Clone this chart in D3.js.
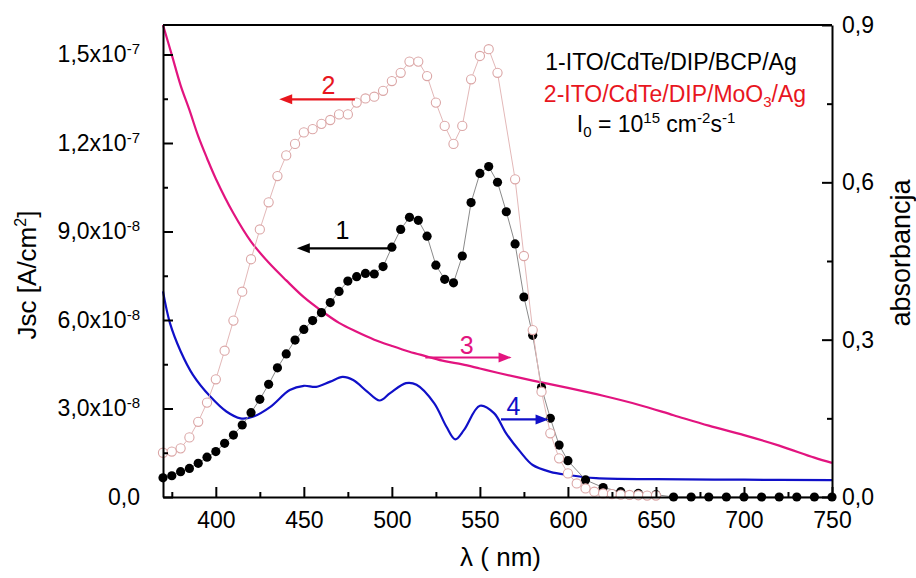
<!DOCTYPE html>
<html><head><meta charset="utf-8">
<script src="https://cdn.jsdelivr.net/npm/d3@7"></script>
<style>
html,body{margin:0;padding:0;background:#fff;}
svg{display:block;font-family:"Liberation Sans",Arial,sans-serif;}
</style></head>
<body>
<svg id="chart" width="916" height="578"></svg>
<script>
// ---------- data ----------
const blackNm = [370,375,380,385,390,395,400,405,410,415,420,425,430,435,440,445,450,455,460,465,470,475,480,485,490,495,500,505,510,515,520,525,530,535,540,545,550,555,560,565,570,575,580,585,590,595,600,610,620,630,640,650,660,670,680,690,700,710,720,730,740,750];
const blackJsc = [0.65,0.72,0.86,0.97,1.14,1.35,1.54,1.82,2.10,2.44,2.86,3.31,3.82,4.38,4.85,5.32,5.68,5.98,6.25,6.59,6.97,7.32,7.47,7.58,7.56,7.81,8.47,9.07,9.48,9.38,8.84,7.86,7.38,7.26,8.17,9.98,10.97,11.20,10.67,9.67,8.58,6.78,5.48,3.71,2.67,1.76,1.23,0.58,0.32,0.18,0.12,0.08,0,0,0,0,0,0,0,0,0,0]; // x1e-8 A/cm2

const pinkNm = [370,375,380,385,390,395,400,405,410,415,420,425,430,435,440,445,450,455,460,465,470,475,480,485,490,495,500,505,510,515,520,525,530,535,540,545,550,555,560,570,575,580,585,590,595,600,605,610,615,620,625,630,635,640,645,650];
const pinkJsc = [1.50,1.54,1.65,2.02,2.55,3.20,3.99,4.96,5.98,6.96,8.06,9.07,9.99,10.88,11.58,11.97,12.36,12.47,12.65,12.78,12.97,12.97,13.37,13.51,13.57,13.77,14.10,14.38,14.76,14.76,14.27,13.37,12.58,11.97,12.58,14.16,14.95,15.18,14.38,10.77,8.17,5.66,3.57,2.16,1.31,0.80,0.46,0.29,0.18,0.12,0.10,0.08,0.07,0.06,0.05,0.05]; // x1e-8 A/cm2

const magentaNm = [370,375,380,385,390,395,400,410,420,430,440,450,460,470,480,490,500,510,520,530,540,550,560,580,600,620,640,660,680,700,720,740,750];
const magentaAbs = [0.900,0.843,0.785,0.738,0.688,0.646,0.607,0.541,0.487,0.447,0.413,0.381,0.355,0.332,0.315,0.300,0.288,0.277,0.268,0.259,0.253,0.245,0.237,0.222,0.208,0.193,0.176,0.156,0.136,0.118,0.098,0.075,0.065];

const blueNm = [370,374,380,387,397,406,414,421,431,442,450,457,465,472,478,486,493,499,508,514,524,531,536,541,550,558,565,573,580,590,600,616,650,700,750];
const blueAbs = [0.392,0.331,0.278,0.233,0.191,0.163,0.150,0.153,0.172,0.204,0.212,0.210,0.220,0.229,0.223,0.201,0.184,0.198,0.217,0.214,0.179,0.134,0.110,0.128,0.174,0.160,0.121,0.086,0.061,0.048,0.042,0.036,0.034,0.033,0.032];

const xTicks = [400,450,500,550,600,650,700,750];
const xMinor = [375,425,475,525,575,625,675,725];
const leftTicks = [0,3e-8,6e-8,9e-8,1.2e-7,1.5e-7];
const leftTickMant = ["0,0","3,0","6,0","9,0","1,2","1,5"];
const leftTickExp = ["","-8","-8","-8","-7","-7"];
const leftMinor = [1.5e-8,4.5e-8,7.5e-8,1.05e-7,1.35e-7];
const rightTicks = [0,0.3,0.6,0.9];
const rightTickLabels = ["0,0","0,3","0,6","0,9"];
const rightMinor = [0.15,0.45,0.75];

// annotation arrows in data coordinates
const arrowLabels = ["1","2","3","4"];
const arrowAxis = ["L","L","R","R"];
const arrowFrom = [[500,8.43e-8],[479,1.348e-7],[519,0.266],[562,0.148]];
const arrowTo = [[446,8.43e-8],[436,1.348e-7],[568,0.266],[589,0.148]];
const arrowText = [[472,9.05e-8],[464,1.397e-7],[542.5,0.290],[569,0.1735]];

// ---------- layout ----------
const L = 163, R = 832, T = 25, B = 497;
const C_RED = "#e8161e", C_MAG = "#e2147f", C_BLUE = "#1010c8", C_PINK = "#dba6a6";

const svg = d3.select("#chart");
const x = d3.scaleLinear().domain([370,750]).range([L,R]);
const yL = d3.scaleLinear().domain([0,1.6e-7]).range([B,T]);
const yR = d3.scaleLinear().domain([0,0.9]).range([B,T]);

// ---------- curves ----------
const absLine = d3.line().x(d=>x(d[0])).y(d=>yR(d[1])).curve(d3.curveCatmullRom.alpha(0.5));
svg.append("path").datum(magentaNm.map((n,i)=>[n,magentaAbs[i]]))
  .attr("d",absLine).attr("fill","none").attr("stroke",C_MAG).attr("stroke-width",2.2);
svg.append("path").datum(blueNm.map((n,i)=>[n,blueAbs[i]]))
  .attr("d",absLine).attr("fill","none").attr("stroke",C_BLUE).attr("stroke-width",2.2);

const jLine = d3.line().x(d=>x(d[0])).y(d=>yL(d[1]*1e-8));
const blackData = blackNm.map((n,i)=>[n,blackJsc[i]]);
const pinkData = pinkNm.map((n,i)=>[n,pinkJsc[i]]);

svg.append("path").datum(blackData).attr("d",jLine).attr("fill","none").attr("stroke","#8a8a8a").attr("stroke-width",1);
svg.selectAll("circle.blk").data(blackData).join("circle").attr("class","blk")
  .attr("cx",d=>x(d[0])).attr("cy",d=>yL(d[1]*1e-8)).attr("r",4.6).attr("fill","#000");

svg.append("path").datum(pinkData).attr("d",jLine).attr("fill","none").attr("stroke","#e3b8b8").attr("stroke-width",1);
svg.selectAll("circle.pnk").data(pinkData).join("circle").attr("class","pnk")
  .attr("cx",d=>x(d[0])).attr("cy",d=>yL(d[1]*1e-8)).attr("r",4.6)
  .attr("fill","#fff").attr("stroke",C_PINK).attr("stroke-width",1.1);

// ---------- axes ----------
function styleAxis(g){
  g.select(".domain").attr("stroke","#000").attr("stroke-width",2);
  g.selectAll(".tick line").attr("stroke","#000").attr("stroke-width",2);
  g.selectAll("text").attr("fill","#000").attr("font-size",23).attr("font-family","'Liberation Sans',Arial,sans-serif");
}
// bottom
const gx = svg.append("g").attr("transform",`translate(0,${B})`)
  .call(d3.axisBottom(x).tickValues(xTicks).tickSizeInner(-10).tickSizeOuter(0).tickPadding(15).tickFormat(d3.format("d")));
styleAxis(gx);
const gxm = svg.append("g").attr("transform",`translate(0,${B})`)
  .call(d3.axisBottom(x).tickValues(xMinor).tickSizeInner(-5).tickSizeOuter(0).tickFormat(""));
styleAxis(gxm); gxm.select(".domain").remove();

// top border
svg.append("line").attr("x1",L).attr("x2",R).attr("y1",T).attr("y2",T).attr("stroke","#000").attr("stroke-width",2);

// left
const gy = svg.append("g").attr("transform",`translate(${L},0)`)
  .call(d3.axisLeft(yL).tickValues(leftTicks).tickSizeInner(-10).tickSizeOuter(0).tickPadding(23).tickFormat(""));
styleAxis(gy);
gy.selectAll(".tick text").each(function(d,i){
  const t = d3.select(this);
  if(leftTickExp[i]===""){ t.text(leftTickMant[i]); return; }
  t.append("tspan").text(leftTickMant[i]+"x10");
  t.append("tspan").attr("font-size",15).attr("dy",-8).text(leftTickExp[i]);
});
const gym = svg.append("g").attr("transform",`translate(${L},0)`)
  .call(d3.axisLeft(yL).tickValues(leftMinor).tickSizeInner(-5).tickSizeOuter(0).tickFormat(""));
styleAxis(gym); gym.select(".domain").remove();

// right
const gr = svg.append("g").attr("transform",`translate(${R},0)`)
  .call(d3.axisRight(yR).tickValues(rightTicks).tickSizeInner(-10).tickSizeOuter(0).tickPadding(10).tickFormat((d,i)=>rightTickLabels[i]));
styleAxis(gr);
const grm = svg.append("g").attr("transform",`translate(${R},0)`)
  .call(d3.axisRight(yR).tickValues(rightMinor).tickSizeInner(-5).tickSizeOuter(0).tickFormat(""));
styleAxis(grm); grm.select(".domain").remove();

// axis titles
svg.append("text").attr("transform",`translate(${(L+R)/2+3},566)`).attr("text-anchor","middle")
  .attr("font-size",26).text("λ ( nm)");
const yt = svg.append("text").attr("transform","translate(36,275) rotate(-90)").attr("text-anchor","middle").attr("font-size",26);
yt.append("tspan").text("Jsc [A/cm");
yt.append("tspan").attr("font-size",16).attr("dy",-10).text("2");
yt.append("tspan").attr("dy",10).text("]");
svg.append("text").attr("transform","translate(910,253) rotate(-90)").attr("text-anchor","middle")
  .attr("font-size",27).text("absorbancja");

// legend text
const lg = svg.append("g").attr("font-size",23).attr("text-anchor","middle");
lg.append("text").attr("x",671).attr("y",70).attr("fill","#000").text("1-ITO/CdTe/DIP/BCP/Ag");
const l2 = lg.append("text").attr("x",675).attr("y",102).attr("fill",C_RED);
l2.append("tspan").text("2-ITO/CdTe/DIP/MoO");
l2.append("tspan").attr("font-size",15).attr("dy",5).text("3");
l2.append("tspan").attr("dy",-5).text("/Ag");
const l3 = lg.append("text").attr("x",656).attr("y",132).attr("fill","#000");
l3.append("tspan").text("I");
l3.append("tspan").attr("font-size",15).attr("dy",5).text("0");
l3.append("tspan").attr("dy",-5).text(" = 10");
l3.append("tspan").attr("font-size",15).attr("dy",-9).text("15");
l3.append("tspan").attr("dy",9).text(" cm");
l3.append("tspan").attr("font-size",15).attr("dy",-9).text("-2");
l3.append("tspan").attr("dy",9).text("s");
l3.append("tspan").attr("font-size",15).attr("dy",-9).text("-1");

// arrows
const arrowColors = ["#000",C_RED,C_MAG,C_BLUE];
arrowLabels.forEach((lab,i)=>{
  const ys = arrowAxis[i]==="L" ? yL : yR;
  const x1 = x(arrowFrom[i][0]), y1 = ys(arrowFrom[i][1]);
  const x2 = x(arrowTo[i][0]), y2 = ys(arrowTo[i][1]);
  const dir = Math.sign(x2-x1), hl = 13, hw = 5;
  svg.append("line").attr("x1",x1).attr("y1",y1).attr("x2",x2-dir*hl*0.8).attr("y2",y2)
    .attr("stroke",arrowColors[i]).attr("stroke-width",2.2);
  svg.append("path").attr("d",`M${x2},${y2}L${x2-dir*hl},${y2-hw}L${x2-dir*hl},${y2+hw}Z`).attr("fill",arrowColors[i]);
  svg.append("text").attr("x",x(arrowText[i][0])).attr("y",ys(arrowText[i][1])+9)
    .attr("text-anchor","middle").attr("font-size",25).attr("fill",arrowColors[i]).text(lab);
});
</script>
</body></html>
